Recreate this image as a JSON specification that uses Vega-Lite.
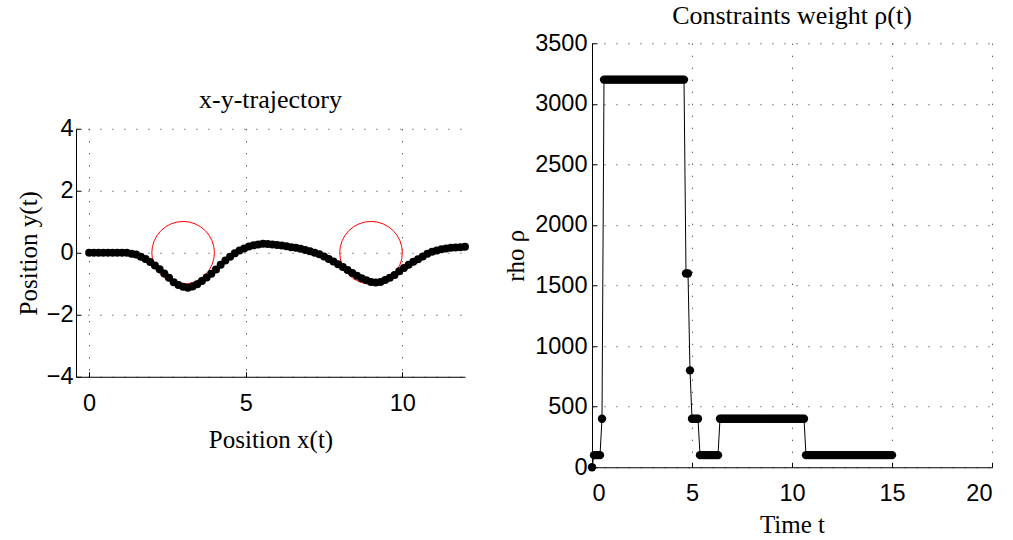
{
  "$schema": "https://vega.github.io/schema/vega-lite/v6.json",
  "padding": {"left": 16, "top": 3, "right": 5, "bottom": 2},
  "background": "white",
  "center": true,
  "spacing": 34,
  "config": {
    "view": {"stroke": null},
    "axis": {
      "grid": true,
      "gridColor": "black",
      "gridDash": [1, 11],
      "gridOpacity": 0.85,
      "gridWidth": 1,
      "domainColor": "black",
      "domainWidth": 1,
      "tickColor": "black",
      "tickSize": -5,
      "tickWidth": 1,
      "labelFont": "Liberation Sans",
      "labelFontSize": 23.5,
      "labelColor": "black",
      "titleFont": "Liberation Serif",
      "titleFontSize": 25,
      "titleFontWeight": "normal",
      "titleColor": "black"
    },
    "title": {"font": "Liberation Serif", "fontSize": 26, "fontWeight": "normal", "color": "black"}
  },
  "datasets": {
    "traj": [
      {"x": 0.0, "y": 0}, {"x": 0.15, "y": 0}, {"x": 0.3, "y": 0}, {"x": 0.45, "y": 0},
      {"x": 0.6, "y": 0}, {"x": 0.75, "y": 0}, {"x": 0.9, "y": 0}, {"x": 1.05, "y": 0},
      {"x": 1.2, "y": 0}, {"x": 1.35, "y": -0.03}, {"x": 1.5, "y": -0.06}, {"x": 1.65, "y": -0.13},
      {"x": 1.8, "y": -0.2}, {"x": 1.95, "y": -0.3}, {"x": 2.1, "y": -0.41}, {"x": 2.25, "y": -0.53},
      {"x": 2.4, "y": -0.67}, {"x": 2.55, "y": -0.81}, {"x": 2.7, "y": -0.95}, {"x": 2.85, "y": -1.04},
      {"x": 3.0, "y": -1.1}, {"x": 3.15, "y": -1.13}, {"x": 3.3, "y": -1.09}, {"x": 3.45, "y": -1.02},
      {"x": 3.6, "y": -0.91}, {"x": 3.75, "y": -0.8}, {"x": 3.9, "y": -0.68}, {"x": 4.05, "y": -0.54},
      {"x": 4.2, "y": -0.39}, {"x": 4.35, "y": -0.25}, {"x": 4.5, "y": -0.13}, {"x": 4.65, "y": -0.02},
      {"x": 4.8, "y": 0.07}, {"x": 4.95, "y": 0.14}, {"x": 5.1, "y": 0.2}, {"x": 5.25, "y": 0.24},
      {"x": 5.4, "y": 0.27}, {"x": 5.55, "y": 0.29}, {"x": 5.7, "y": 0.28}, {"x": 5.85, "y": 0.27},
      {"x": 6.0, "y": 0.25}, {"x": 6.15, "y": 0.23}, {"x": 6.3, "y": 0.21}, {"x": 6.45, "y": 0.18},
      {"x": 6.6, "y": 0.16}, {"x": 6.75, "y": 0.13}, {"x": 6.9, "y": 0.09}, {"x": 7.05, "y": 0.05},
      {"x": 7.2, "y": 0.0}, {"x": 7.35, "y": -0.05}, {"x": 7.5, "y": -0.12}, {"x": 7.65, "y": -0.2},
      {"x": 7.8, "y": -0.28}, {"x": 7.95, "y": -0.37}, {"x": 8.1, "y": -0.46}, {"x": 8.25, "y": -0.56},
      {"x": 8.4, "y": -0.65}, {"x": 8.55, "y": -0.74}, {"x": 8.7, "y": -0.82}, {"x": 8.85, "y": -0.89},
      {"x": 9.0, "y": -0.94}, {"x": 9.15, "y": -0.96}, {"x": 9.3, "y": -0.94}, {"x": 9.45, "y": -0.88},
      {"x": 9.6, "y": -0.81}, {"x": 9.75, "y": -0.72}, {"x": 9.9, "y": -0.6}, {"x": 10.05, "y": -0.49},
      {"x": 10.2, "y": -0.39}, {"x": 10.35, "y": -0.29}, {"x": 10.5, "y": -0.21}, {"x": 10.65, "y": -0.12},
      {"x": 10.8, "y": -0.03}, {"x": 10.95, "y": 0.03}, {"x": 11.1, "y": 0.07}, {"x": 11.25, "y": 0.11},
      {"x": 11.4, "y": 0.14}, {"x": 11.55, "y": 0.16}, {"x": 11.7, "y": 0.17}, {"x": 11.85, "y": 0.18},
      {"x": 12.0, "y": 0.19}
    ],
    "obstacles": [
      {"cx": 3, "cy": 0},
      {"cx": 9, "cy": 0}
    ],
    "rho": [
      {"t": 0.0, "rho": 0},
      {"t": 0.1, "rho": 100}, {"t": 0.2, "rho": 100}, {"t": 0.3, "rho": 100}, {"t": 0.4, "rho": 100},
      {"t": 0.5, "rho": 400},
      {"t": 0.6, "rho": 3200}, {"t": 0.7, "rho": 3200}, {"t": 0.8, "rho": 3200}, {"t": 0.9, "rho": 3200},
      {"t": 1.0, "rho": 3200}, {"t": 1.1, "rho": 3200}, {"t": 1.2, "rho": 3200}, {"t": 1.3, "rho": 3200},
      {"t": 1.4, "rho": 3200}, {"t": 1.5, "rho": 3200}, {"t": 1.6, "rho": 3200}, {"t": 1.7, "rho": 3200},
      {"t": 1.8, "rho": 3200}, {"t": 1.9, "rho": 3200}, {"t": 2.0, "rho": 3200}, {"t": 2.1, "rho": 3200},
      {"t": 2.2, "rho": 3200}, {"t": 2.3, "rho": 3200}, {"t": 2.4, "rho": 3200}, {"t": 2.5, "rho": 3200},
      {"t": 2.6, "rho": 3200}, {"t": 2.7, "rho": 3200}, {"t": 2.8, "rho": 3200}, {"t": 2.9, "rho": 3200},
      {"t": 3.0, "rho": 3200}, {"t": 3.1, "rho": 3200}, {"t": 3.2, "rho": 3200}, {"t": 3.3, "rho": 3200},
      {"t": 3.4, "rho": 3200}, {"t": 3.5, "rho": 3200}, {"t": 3.6, "rho": 3200}, {"t": 3.7, "rho": 3200},
      {"t": 3.8, "rho": 3200}, {"t": 3.9, "rho": 3200}, {"t": 4.0, "rho": 3200}, {"t": 4.1, "rho": 3200},
      {"t": 4.2, "rho": 3200}, {"t": 4.3, "rho": 3200}, {"t": 4.4, "rho": 3200}, {"t": 4.5, "rho": 3200},
      {"t": 4.6, "rho": 3200},
      {"t": 4.7, "rho": 1600}, {"t": 4.8, "rho": 1600},
      {"t": 4.9, "rho": 800},
      {"t": 5.0, "rho": 400}, {"t": 5.1, "rho": 400}, {"t": 5.2, "rho": 400}, {"t": 5.3, "rho": 400},
      {"t": 5.4, "rho": 100}, {"t": 5.5, "rho": 100}, {"t": 5.6, "rho": 100}, {"t": 5.7, "rho": 100},
      {"t": 5.8, "rho": 100}, {"t": 5.9, "rho": 100}, {"t": 6.0, "rho": 100}, {"t": 6.1, "rho": 100},
      {"t": 6.2, "rho": 100}, {"t": 6.3, "rho": 100},
      {"t": 6.4, "rho": 400}, {"t": 6.5, "rho": 400}, {"t": 6.6, "rho": 400}, {"t": 6.7, "rho": 400},
      {"t": 6.8, "rho": 400}, {"t": 6.9, "rho": 400}, {"t": 7.0, "rho": 400}, {"t": 7.1, "rho": 400},
      {"t": 7.2, "rho": 400}, {"t": 7.3, "rho": 400}, {"t": 7.4, "rho": 400}, {"t": 7.5, "rho": 400},
      {"t": 7.6, "rho": 400}, {"t": 7.7, "rho": 400}, {"t": 7.8, "rho": 400}, {"t": 7.9, "rho": 400},
      {"t": 8.0, "rho": 400}, {"t": 8.1, "rho": 400}, {"t": 8.2, "rho": 400}, {"t": 8.3, "rho": 400},
      {"t": 8.4, "rho": 400}, {"t": 8.5, "rho": 400}, {"t": 8.6, "rho": 400}, {"t": 8.7, "rho": 400},
      {"t": 8.8, "rho": 400}, {"t": 8.9, "rho": 400}, {"t": 9.0, "rho": 400}, {"t": 9.1, "rho": 400},
      {"t": 9.2, "rho": 400}, {"t": 9.3, "rho": 400}, {"t": 9.4, "rho": 400}, {"t": 9.5, "rho": 400},
      {"t": 9.6, "rho": 400}, {"t": 9.7, "rho": 400}, {"t": 9.8, "rho": 400}, {"t": 9.9, "rho": 400},
      {"t": 10.0, "rho": 400}, {"t": 10.1, "rho": 400}, {"t": 10.2, "rho": 400}, {"t": 10.3, "rho": 400},
      {"t": 10.4, "rho": 400}, {"t": 10.5, "rho": 400}, {"t": 10.6, "rho": 400},
      {"t": 10.7, "rho": 100}, {"t": 10.8, "rho": 100}, {"t": 10.9, "rho": 100}, {"t": 11.0, "rho": 100},
      {"t": 11.1, "rho": 100}, {"t": 11.2, "rho": 100}, {"t": 11.3, "rho": 100}, {"t": 11.4, "rho": 100},
      {"t": 11.5, "rho": 100}, {"t": 11.6, "rho": 100}, {"t": 11.7, "rho": 100}, {"t": 11.8, "rho": 100},
      {"t": 11.9, "rho": 100}, {"t": 12.0, "rho": 100}, {"t": 12.1, "rho": 100}, {"t": 12.2, "rho": 100},
      {"t": 12.3, "rho": 100}, {"t": 12.4, "rho": 100}, {"t": 12.5, "rho": 100}, {"t": 12.6, "rho": 100},
      {"t": 12.7, "rho": 100}, {"t": 12.8, "rho": 100}, {"t": 12.9, "rho": 100}, {"t": 13.0, "rho": 100},
      {"t": 13.1, "rho": 100}, {"t": 13.2, "rho": 100}, {"t": 13.3, "rho": 100}, {"t": 13.4, "rho": 100},
      {"t": 13.5, "rho": 100}, {"t": 13.6, "rho": 100}, {"t": 13.7, "rho": 100}, {"t": 13.8, "rho": 100},
      {"t": 13.9, "rho": 100}, {"t": 14.0, "rho": 100}, {"t": 14.1, "rho": 100}, {"t": 14.2, "rho": 100},
      {"t": 14.3, "rho": 100}, {"t": 14.4, "rho": 100}, {"t": 14.5, "rho": 100}, {"t": 14.6, "rho": 100},
      {"t": 14.7, "rho": 100}, {"t": 14.8, "rho": 100}, {"t": 14.9, "rho": 100}, {"t": 15.0, "rho": 100}
    ]
  },
  "hconcat": [
    {
      "width": 389,
      "height": 248,
      "title": {"text": "x-y-trajectory", "offset": 4},
      "layer": [
        {
          "data": {"name": "obstacles"},
          "mark": {"type": "point", "shape": "circle", "filled": false, "size": 3920, "stroke": "#ff0000", "strokeWidth": 1, "opacity": 1},
          "encoding": {
            "x": {"field": "cx", "type": "quantitative", "scale": {"domain": [-0.42, 12], "nice": false, "zero": false},
                  "axis": {"values": [0, 5, 10], "format": "d", "title": "Position x(t)", "labelPadding": 20, "titlePadding": 12}},
            "y": {"field": "cy", "type": "quantitative", "scale": {"domain": [-4, 4], "nice": false},
                  "axis": {"values": [-4, -2, 0, 2, 4], "format": "d", "title": "Position y(t)", "labelPadding": 8, "titlePadding": 5}}
          }
        },
        {
          "data": {"name": "traj"},
          "mark": {"type": "line", "color": "black", "strokeWidth": 1.5, "point": {"filled": true, "size": 64, "color": "black", "opacity": 1}},
          "encoding": {
            "x": {"field": "x", "type": "quantitative"},
            "y": {"field": "y", "type": "quantitative"}
          }
        }
      ]
    },
    {
      "width": 400,
      "height": 424,
      "title": {"text": "Constraints weight ρ(t)", "offset": 2},
      "data": {"name": "rho"},
      "mark": {"type": "line", "color": "black", "strokeWidth": 1, "point": {"filled": true, "size": 70, "color": "black", "opacity": 1}},
      "encoding": {
        "x": {"field": "t", "type": "quantitative", "scale": {"domain": [0, 20], "nice": false},
              "axis": {"values": [0, 5, 10, 15, 20], "format": "d", "title": "Time t", "labelPadding": 19, "titlePadding": 8}},
        "y": {"field": "rho", "type": "quantitative", "scale": {"domain": [0, 3500], "nice": false},
              "axis": {"values": [0, 500, 1000, 1500, 2000, 2500, 3000, 3500], "format": "d", "title": "rho ρ", "labelPadding": 10, "titlePadding": 6}}
      }
    }
  ]
}
